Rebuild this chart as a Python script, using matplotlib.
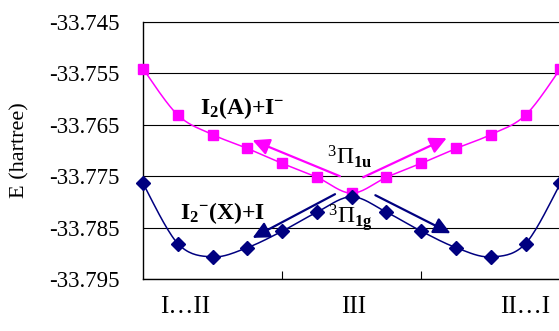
import numpy as np
import matplotlib
matplotlib.use("Agg")
import matplotlib.pyplot as plt

plt.rcParams['font.family'] = ['Liberation Serif', 'DejaVu Serif']
plt.rcParams['mathtext.fontset'] = 'custom'
plt.rcParams['mathtext.rm'] = 'Liberation Serif'
plt.rcParams['mathtext.it'] = 'Liberation Serif:italic'
plt.rcParams['mathtext.bf'] = 'Liberation Serif:bold'

# ---- data ----
upper_E = [-33.7541, -33.7631, -33.7669, -33.7696, -33.7725, -33.7752, -33.7783,
           -33.7752, -33.7725, -33.7696, -33.7669, -33.7631, -33.7541]
lower_E = [-33.7764, -33.7881, -33.7907, -33.7889, -33.7857, -33.7820, -33.7790,
           -33.7820, -33.7857, -33.7889, -33.7907, -33.7881, -33.7764]
region_labels = ["I…II", "III", "II…I"]
y_ticks = [-33.795, -33.785, -33.775, -33.765, -33.755, -33.745]
y_tick_labels = ["-33.795", "-33.785", "-33.775", "-33.765", "-33.755", "-33.745"]


def smooth(x, y, n=20):
    """Excel-style smoothed line (Catmull-Rom Bezier, tension 1/6)."""
    x = np.asarray(x, float)
    y = np.asarray(y, float)
    P = np.column_stack([x, y])
    m = len(P)
    out = []
    t = np.linspace(0, 1, n)[:, None]
    for i in range(m - 1):
        p0 = P[i]
        p3 = P[i + 1]
        pm = P[i - 1] if i > 0 else P[i]
        pp = P[i + 2] if i + 2 < m else P[i + 1]
        c1 = p0 + (p3 - pm) / 6.0
        c2 = p3 - (pp - p0) / 6.0
        seg = ((1 - t) ** 3) * p0 + 3 * ((1 - t) ** 2) * t * c1 + 3 * (1 - t) * t ** 2 * c2 + t ** 3 * p3
        out.append(seg if i == 0 else seg[1:])
    s = np.vstack(out)
    return s[:, 0], s[:, 1]


W, H = 559, 331
fig = plt.figure(figsize=(W / 100, H / 100), dpi=100)
ax = fig.add_axes([143 / W, 1 - 279 / H, (W - 143) / W + 0.01, (279 - 22) / H])

xs = np.arange(len(upper_E))
PINK = '#FF00FF'
NAVY = '#000080'

sx, sy = smooth(xs, upper_E)
ax.plot(sx, sy, color=PINK, lw=1.1, zorder=3, clip_on=False)
ax.plot(xs, upper_E, ls='none', marker='s', ms=7.2, color=PINK, zorder=4, clip_on=False)

sx, sy = smooth(xs, lower_E)
ax.plot(sx, sy, color=NAVY, lw=1.1, zorder=3, clip_on=False)
ax.plot(xs, lower_E, ls='none', marker='D', ms=7, color=NAVY, zorder=4, clip_on=False)

ax.set_xlim(0, 12.12)
ax.set_ylim(-33.795, -33.745)
ax.set_yticks(y_ticks)
ax.set_yticklabels(y_tick_labels, fontsize=16.5)
ax.yaxis.grid(True, color='black', lw=0.8)
ax.set_axisbelow(True)
ax.tick_params(axis='y', length=0, pad=17)
ax.set_xticks([4, 8])
ax.set_xticklabels([])
ax.tick_params(axis='x', direction='in', length=6, width=0.8)
ax.spines['right'].set_visible(False)
ax.spines['top'].set_linewidth(0.8)
for s in ['left', 'bottom']:
    ax.spines[s].set_linewidth(1.0)

ax.set_ylabel("E (hartree)", fontsize=16, labelpad=14)

# region labels under axis
for xp, lab in zip([1.2, 6.05, 11.0], region_labels):
    ax.text(xp, -0.11, lab, transform=ax.get_xaxis_transform(), ha='center', va='center', fontsize=18)

# arrows
arr = dict(arrowstyle='-|>,head_length=0.85,head_width=0.42', lw=1.6, mutation_scale=12, shrinkA=0, shrinkB=0)
ax.annotate('', xy=(3.15, -33.7680), xytext=(5.66, -33.7750), arrowprops=dict(color=PINK, **arr))
ax.annotate('', xy=(8.73, -33.7676), xytext=(6.33, -33.7752), arrowprops=dict(color=PINK, **arr))
ax.annotate('', xy=(3.15, -33.7870), xytext=(5.52, -33.7785), arrowprops=dict(color=NAVY, **arr))
ax.annotate('', xy=(8.84, -33.7861), xytext=(6.68, -33.7787), arrowprops=dict(color=NAVY, **arr))

# text labels
ax.text(1.65, -33.7618, r'$\mathbf{I_2(A){+}I^{-}}$', fontsize=17, va='center', ha='left')
ax.text(1.05, -33.7822, r'$\mathbf{I_2{}^{-}(X){+}I}$', fontsize=17, va='center', ha='left')
ax.text(5.3, -33.7712, r'$^3\Pi_{\mathbf{1u}}$', fontsize=17, va='center', ha='left')
ax.text(5.33, -33.7831, r'$^3\Pi_{\mathbf{1g}}$', fontsize=17, va='center', ha='left')

fig.savefig('out.png', dpi=100)
